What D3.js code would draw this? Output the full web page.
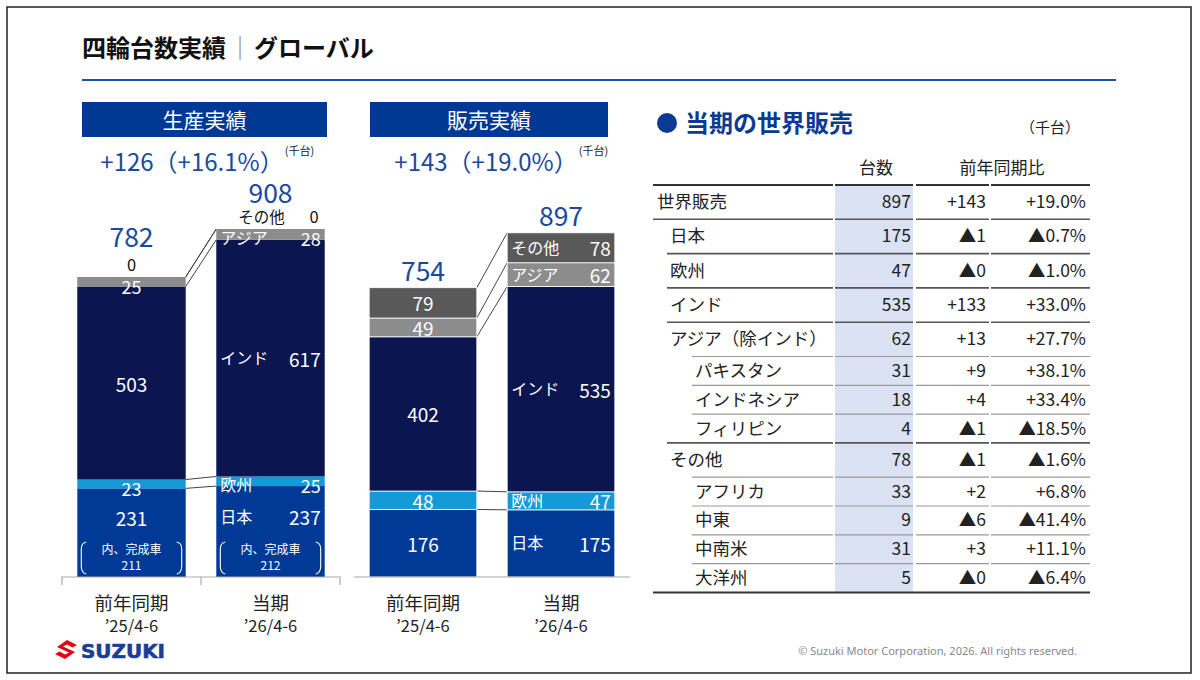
<!DOCTYPE html>
<html>
<head>
<meta charset="utf-8">
<script src="https://cdn.jsdelivr.net/npm/d3@7"></script>
<style>
  body { margin: 0; background: #fff; }
  svg { display: block; font-family: "Noto Sans CJK JP", "Noto Sans", sans-serif; }
</style>
</head>
<body>
<svg id="chart" width="1200" height="680"></svg>
<script>
// ---- data ----
const regions = ["日本", "欧州", "インド", "アジア", "その他"];
const periods = ["前年同期", "当期"];
const periodSub = ["’25/4-6", "’26/4-6"];

const prodPrev = [231, 23, 503, 25, 0];
const prodCurr = [237, 25, 617, 28, 0];
const prodTotals = [782, 908];
const prodKansei = [211, 212];
const prodDiff = "+126（+16.1%）";

const salesPrev = [176, 48, 402, 49, 79];
const salesCurr = [175, 47, 535, 62, 78];
const salesTotals = [754, 897];
const salesDiff = "+143（+19.0%）";

const tableLabels = ["世界販売", "日本", "欧州", "インド", "アジア（除インド）", "パキスタン", "インドネシア", "フィリピン", "その他", "アフリカ", "中東", "中南米", "大洋州"];
const tableLevel = [0, 1, 1, 1, 1, 2, 2, 2, 1, 2, 2, 2, 2];
const tableUnits = [897, 175, 47, 535, 62, 31, 18, 4, 78, 33, 9, 31, 5];
const tableDiff = ["+143", "▲1", "▲0", "+133", "+13", "+9", "+4", "▲1", "▲1", "+2", "▲6", "+3", "▲0"];
const tablePct = ["+19.0%", "▲0.7%", "▲1.0%", "+33.0%", "+27.7%", "+38.1%", "+33.4%", "▲18.5%", "▲1.6%", "+6.8%", "▲41.4%", "+11.1%", "▲6.4%"];

// ---- styles ----
const colors = ["#003a96", "#149bd7", "#0b154f", "#8c8c8c", "#595959"];
const blue = "#1a4a9e";
const navy = "#003893";

const svg = d3.select("#chart");

svg.append("rect").attr("x", 7).attr("y", 7).attr("width", 1184).attr("height", 666)
   .attr("fill", "#fff").attr("stroke", "#222").attr("stroke-width", 1.5);

// title
const title = svg.append("text").attr("x", 82).attr("y", 57)
   .attr("font-size", 24).attr("font-weight", "bold").attr("fill", "#111");
title.append("tspan").text("四輪台数実績");
title.append("tspan").attr("font-weight", "normal").attr("fill", "#888").attr("dx", 2).text("｜");
title.append("tspan").attr("dx", 2).text("グローバル");
svg.append("line").attr("x1", 82).attr("x2", 1116).attr("y1", 80).attr("y2", 80)
   .attr("stroke", "#1f51a8").attr("stroke-width", 2);

const y = d3.scaleLinear().domain([0, 1000]).range([577, 193.3]);

function drawChart(opt) {
  const g = svg.append("g");
  const x = d3.scaleBand().domain(periods).range(opt.range).paddingInner(0.22).paddingOuter(0.11);
  const bw = x.bandwidth();

  // header box
  g.append("rect").attr("x", opt.box[0]).attr("y", 102).attr("width", opt.box[1] - opt.box[0]).attr("height", 35)
   .attr("fill", navy);
  g.append("text").attr("x", (opt.box[0] + opt.box[1]) / 2).attr("y", 128).attr("text-anchor", "middle")
   .attr("font-size", 21).attr("fill", "#fff").text(opt.title);
  const dt = g.append("text").attr("x", opt.diffX).attr("y", 171).attr("text-anchor", "middle")
   .attr("font-size", 24).attr("fill", blue).text(opt.diff);
  const bb = dt.node().getBBox();
  g.append("text").attr("x", bb.x + bb.width + 1).attr("y", 155).attr("font-size", 11).attr("fill", "#222").text("(千台)");

  const rows = periods.map((p, j) => {
    const r = { period: p };
    regions.forEach((k, i) => r[k] = opt.values[j][i]);
    return r;
  });
  const series = d3.stack().keys(regions)(rows);

  // connectors
  series.forEach(s => {
    const a = s[0], b = s[1];
    g.append("line")
     .attr("x1", x(periods[0]) + bw).attr("y1", y(a[1]))
     .attr("x2", x(periods[1])).attr("y2", y(b[1]))
     .attr("stroke", "#444").attr("stroke-width", 1);
  });

  // bars
  series.forEach((s, k) => {
    g.selectAll(null).data(s).join("rect")
     .attr("x", d => x(d.data.period))
     .attr("y", d => y(d[1]))
     .attr("width", bw)
     .attr("height", d => y(d[0]) - y(d[1]))
     .attr("fill", colors[k])
     .attr("stroke", opt.sep ? "#fff" : "none")
     .attr("stroke-width", 0.8);
  });

  // segment labels
  series.forEach((s, k) => {
    s.forEach((d, j) => {
      const v = d[1] - d[0];
      const x0 = x(d.data.period);
      const top = y(d3.sum(opt.values[j]));
      if (v > 0) {
        const h = y(d[0]) - y(d[1]);
        let cy = (y(d[0]) + y(d[1])) / 2;
        if (opt.kansei && k === 0) cy -= 15;
        if (h < 14) cy += 4;
        if (j === 0) {
          g.append("text").attr("x", x0 + bw / 2).attr("y", cy).attr("dominant-baseline", "central")
           .attr("text-anchor", "middle").attr("font-size", h < 14 ? 18 : 19).attr("fill", "#fff").text(v);
        } else {
          g.append("text").attr("x", x0 + 4).attr("y", cy - 1).attr("dominant-baseline", "central")
           .attr("font-size", 16).attr("fill", "#fff").text(regions[k]);
          g.append("text").attr("x", x0 + bw - 4).attr("y", cy).attr("dominant-baseline", "central")
           .attr("text-anchor", "end").attr("font-size", h < 14 ? 18 : 19).attr("fill", "#fff").text(v);
        }
      } else {
        if (j === 0) {
          g.append("text").attr("x", x0 + bw / 2).attr("y", top - 6).attr("text-anchor", "middle")
           .attr("font-size", 16.5).attr("fill", "#111").text(v);
        } else {
          g.append("text").attr("x", x0 + 22).attr("y", top - 6)
           .attr("font-size", 15.5).attr("fill", "#111").text(regions[k]);
          g.append("text").attr("x", x0 + bw - 6).attr("y", top - 6).attr("text-anchor", "end")
           .attr("font-size", 16.5).attr("fill", "#111").text(v);
        }
      }
    });
  });

  // totals
  periods.forEach((p, j) => {
    const top = y(d3.sum(opt.values[j]));
    const hasZero = opt.values[j].some(v => v === 0);
    g.append("text").attr("x", x(p) + bw / 2).attr("y", top - (hasZero ? (j === 0 ? 30 : 26) : 7))
     .attr("text-anchor", "middle").attr("font-size", 26.5).attr("fill", blue).text(opt.totals[j]);
  });

  // 内、完成車
  if (opt.kansei) {
    periods.forEach((p, j) => {
      const x0 = x(p), cx = x0 + bw / 2;
      g.append("text").attr("x", cx).attr("y", 554).attr("text-anchor", "middle")
       .attr("font-size", 12).attr("fill", "#fff").text("内、完成車");
      g.append("text").attr("x", cx).attr("y", 570).attr("text-anchor", "middle")
       .attr("font-size", 12).attr("fill", "#fff").text(opt.kansei[j]);
      const l = x0 + 4, r = x0 + bw - 4;
      g.append("path").attr("d", `M${l + 5},542 Q${l},543 ${l},549 V566 Q${l},573 ${l + 5},574`)
       .attr("fill", "none").attr("stroke", "#fff").attr("stroke-width", 1.1);
      g.append("path").attr("d", `M${r - 5},542 Q${r},543 ${r},549 V566 Q${r},573 ${r - 5},574`)
       .attr("fill", "none").attr("stroke", "#fff").attr("stroke-width", 1.1);
    });
  }

  // axis
  const r0 = opt.range[0], r1 = opt.range[1];
  const axis = g.append("g").attr("transform", "translate(0,577)")
   .call(d3.axisBottom(x).tickSize(0).tickFormat(""));
  axis.select(".domain").attr("stroke", "#aaa").attr("stroke-width", 1.2)
   .attr("d", opt.ticks ? `M${r0},8V0H${r1}V8` : `M${r0},0H${r1}`);
  if (opt.ticks) {
    const mid = (x(periods[0]) + bw + x(periods[1])) / 2;
    g.append("line").attr("x1", mid).attr("x2", mid).attr("y1", 577).attr("y2", 585)
     .attr("stroke", "#aaa").attr("stroke-width", 1.2);
  }
  periods.forEach((p, j) => {
    g.append("text").attr("x", x(p) + bw / 2).attr("y", 610).attr("text-anchor", "middle")
     .attr("font-size", 18.5).attr("fill", "#222").text(p);
    g.append("text").attr("x", x(p) + bw / 2).attr("y", 632).attr("text-anchor", "middle")
     .attr("font-size", 16.5).attr("fill", "#222").text(periodSub[j]);
  });
}

drawChart({ title: "生産実績", box: [82, 327], range: [62, 340], diffX: 192, diff: prodDiff,
            values: [prodPrev, prodCurr], totals: prodTotals, kansei: prodKansei, ticks: true, sep: false });
drawChart({ title: "販売実績", box: [370, 608], range: [354, 630], diffX: 486, diff: salesDiff,
            values: [salesPrev, salesCurr], totals: salesTotals, kansei: null, ticks: false, sep: true });

// ---- table ----
const tg = svg.append("g");
tg.append("circle").attr("cx", 667).attr("cy", 123).attr("r", 10).attr("fill", "#0b3a94");
tg.append("text").attr("x", 685).attr("y", 132).attr("font-size", 24).attr("font-weight", "bold")
  .attr("fill", "#0b3a94").text("当期の世界販売");
tg.append("text").attr("x", 1080).attr("y", 133).attr("text-anchor", "end").attr("font-size", 15)
  .attr("fill", "#222").text("（千台）");
tg.append("text").attr("x", 876).attr("y", 174).attr("text-anchor", "middle").attr("font-size", 17)
  .attr("fill", "#222").text("台数");
tg.append("text").attr("x", 1002).attr("y", 174).attr("text-anchor", "middle").attr("font-size", 17)
  .attr("fill", "#222").text("前年同期比");

const indent = [653, 667, 692];
const textX = [657, 670, 695];
const rowH = tableLevel.map(l => l === 2 ? 28.8 : 34.3);
const rowTop = [];
let acc = 185;
rowH.forEach(h => { rowTop.push(acc); acc += h; });
const tableBottom = acc;

tg.append("rect").attr("x", 835).attr("y", 186).attr("width", 78).attr("height", tableBottom - 186)
  .attr("fill", "#dae2f3");

const cols = [[null, 833], [835, 913], [916, 989], [991, 1090]];
function hline(yy, start, color, w) {
  cols.forEach((c, i) => {
    tg.append("line").attr("x1", i === 0 ? start : c[0]).attr("x2", c[1]).attr("y1", yy).attr("y2", yy)
      .attr("stroke", color).attr("stroke-width", w);
  });
}
hline(185, 653, "#333", 2);
tableLabels.forEach((lab, i) => {
  if (i > 0) {
    const lv = i === 1 ? 0 : tableLevel[i];
    hline(rowTop[i], indent[lv], lv === 2 ? "#999" : "#555", lv === 2 ? 1.2 : 1.6);
  }
  const cy = rowTop[i] + rowH[i] / 2 + 6;
  tg.append("text").attr("x", textX[tableLevel[i]]).attr("y", cy).attr("font-size", 17.5).attr("fill", "#222").text(lab);
  tg.append("text").attr("x", 911).attr("y", cy).attr("text-anchor", "end").attr("font-size", 17.5).attr("fill", "#222").text(tableUnits[i]);
  tg.append("text").attr("x", 986).attr("y", cy).attr("text-anchor", "end").attr("font-size", 17.5).attr("fill", "#222").text(tableDiff[i]);
  tg.append("text").attr("x", 1086).attr("y", cy).attr("text-anchor", "end").attr("font-size", 17.5).attr("fill", "#222").text(tablePct[i]);
});
tg.append("line").attr("x1", 653).attr("x2", 1090).attr("y1", tableBottom).attr("y2", tableBottom)
  .attr("stroke", "#333").attr("stroke-width", 2);

// ---- footer ----
svg.append("path")
   .attr("d", "M11,0 L21,5 L16.5,7.5 L11,4.5 L7,6.5 L19,12 L9,19 L-1,14 L3.5,11.5 L9,14.5 L13,12.5 L1,7 Z")
   .attr("transform", "translate(56,640)").attr("fill", "#e60012");
svg.append("text").attr("x", 81).attr("y", 658).attr("font-family", "DejaVu Sans").attr("font-weight", "bold")
   .attr("font-size", 19).attr("fill", "#1b3d94").attr("textLength", 84).attr("lengthAdjust", "spacingAndGlyphs")
   .attr("stroke", "#1b3d94").attr("stroke-width", 0.6).text("SUZUKI");
svg.append("text").attr("x", 1077).attr("y", 655).attr("text-anchor", "end").attr("font-family", "Noto Sans, sans-serif")
   .attr("font-size", 11).attr("fill", "#888").text("© Suzuki Motor Corporation, 2026. All rights reserved.");
</script>
</body>
</html>
